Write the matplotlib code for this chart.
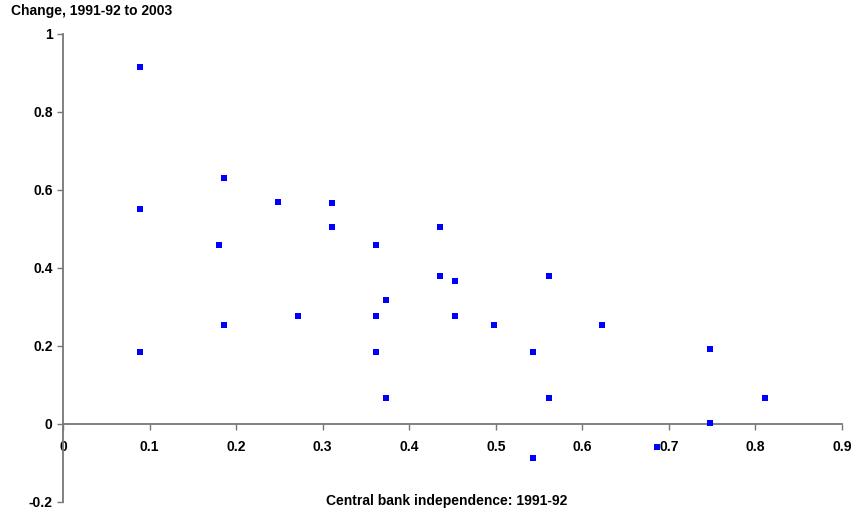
import matplotlib.pyplot as plt

plt.rcParams['font.family'] = ['Liberation Sans', 'DejaVu Sans']

# central bank independence 1991-92 vs change 1991-92 to 2003
cbi = [0.089, 0.089, 0.089, 0.180, 0.186, 0.186, 0.248, 0.271, 0.311, 0.311,
       0.362, 0.362, 0.362, 0.373, 0.373, 0.436, 0.436, 0.453, 0.453, 0.498,
       0.543, 0.543, 0.561, 0.561, 0.623, 0.686, 0.748, 0.748, 0.811]
change = [0.915, 0.550, 0.185, 0.458, 0.629, 0.253, 0.568, 0.275, 0.567, 0.504,
          0.458, 0.275, 0.184, 0.316, 0.066, 0.504, 0.379, 0.367, 0.275, 0.254,
          0.185, -0.089, 0.379, 0.065, 0.253, -0.061, 0.191, 0.003, 0.065]

xticks = [0, 0.1, 0.2, 0.3, 0.4, 0.5, 0.6, 0.7, 0.8, 0.9]
xlabels = ['0', '0.1', '0.2', '0.3', '0.4', '0.5', '0.6', '0.7', '0.8', '0.9']
yticks = [-0.2, 0, 0.2, 0.4, 0.6, 0.8, 1]
ylabels = ['-0.2', '0', '0.2', '0.4', '0.6', '0.8', '1']

fig = plt.figure(figsize=(8.52, 5.12), dpi=100)
ax = fig.add_axes([63/852, 10.3/512, 779/852, 468/512])

ax.scatter(cbi, change, marker='s', s=13, color='#0000ff', linewidths=0, zorder=3)

ax.set_xlim(0, 0.9)
ax.set_ylim(-0.2, 1)
ax.spines['top'].set_visible(False)
ax.spines['right'].set_visible(False)
ax.spines['bottom'].set_position(('data', 0))
for s in ['left', 'bottom']:
    ax.spines[s].set_color('#777777')
    ax.spines[s].set_linewidth(1.3)

ax.set_xticks(xticks)
ax.set_xticklabels(xlabels, fontsize=10, fontweight='bold')
ax.set_yticks(yticks)
ax.set_yticklabels(ylabels, fontsize=10, fontweight='bold')
ax.tick_params(axis='x', length=4, width=1, color='#777777', pad=8)
ax.tick_params(axis='y', length=4, width=1, color='#777777', pad=3.5)

fig.text(447/852, 1 - 501/512, 'Central bank independence: 1991-92', ha='center', va='center',
         fontsize=10, fontweight='bold')
fig.text(11/852, 1 - 10.5/512, 'Change, 1991-92 to 2003', ha='left', va='center',
         fontsize=10, fontweight='bold')

fig.savefig('out.png', dpi=100)
